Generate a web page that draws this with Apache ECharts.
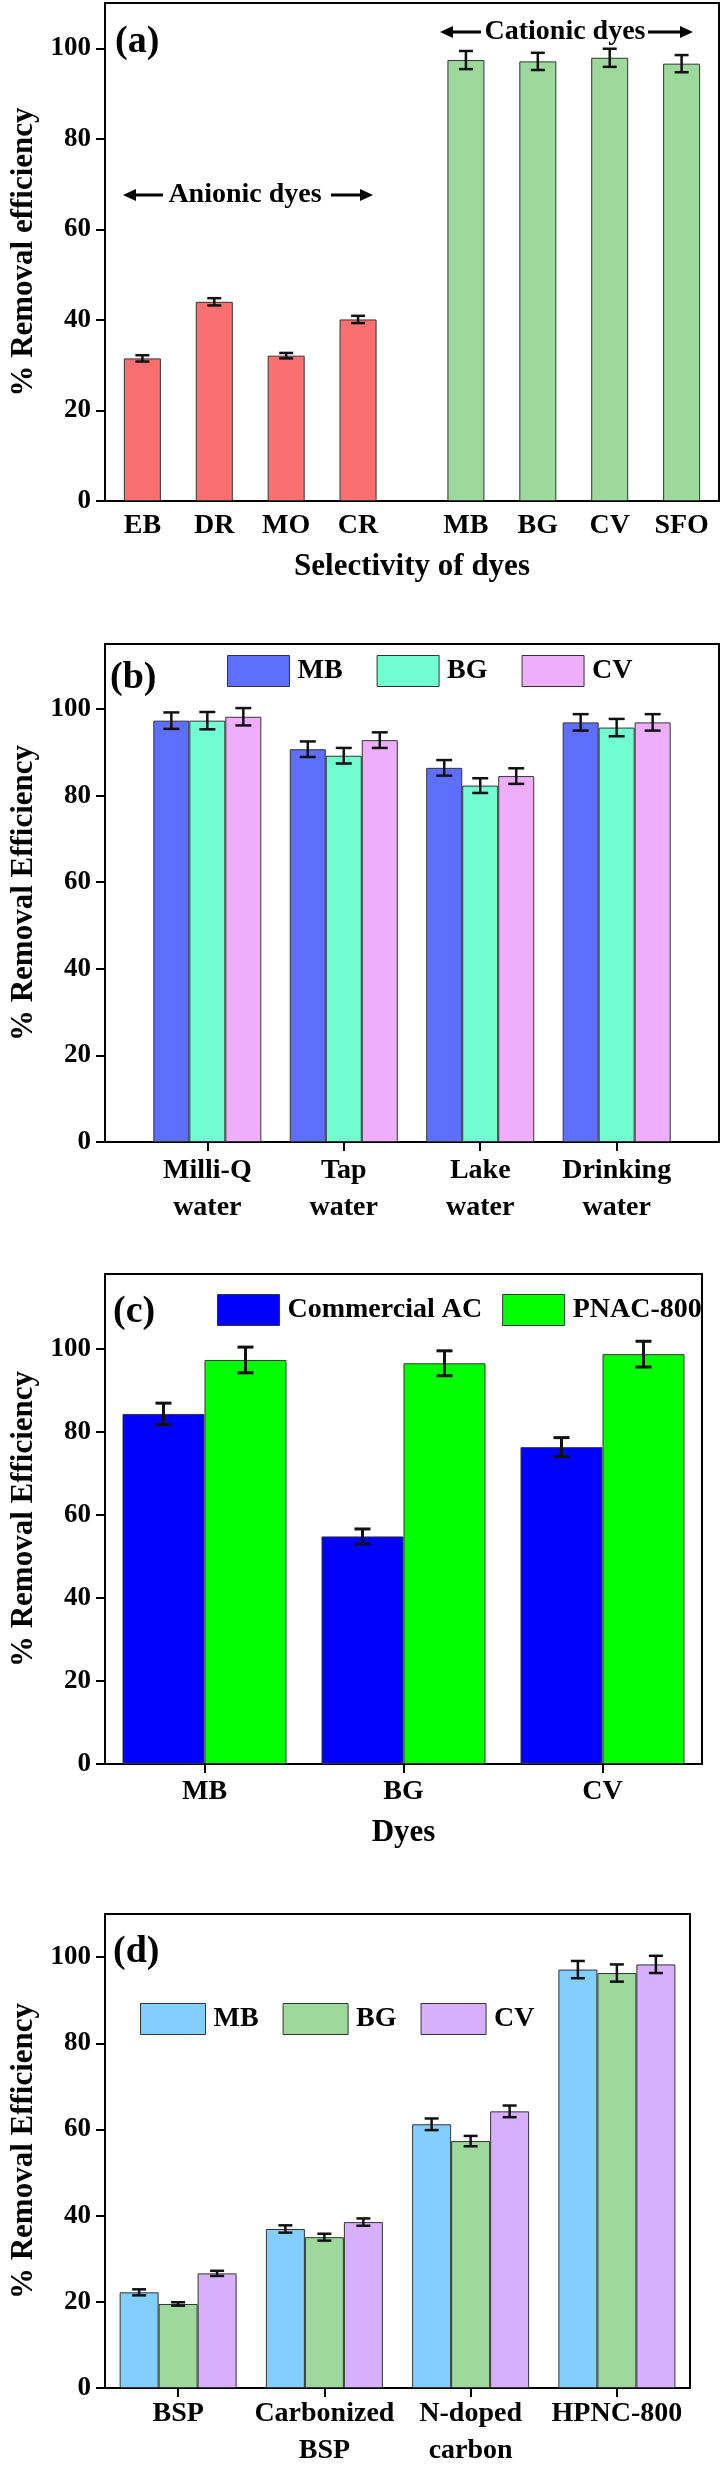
<!DOCTYPE html>
<html>
<head>
<meta charset="utf-8">
<script src="https://cdn.jsdelivr.net/npm/echarts@6/dist/echarts.min.js"></script>
<style>
body { margin: 0; background: #fff; }
.panel { position: absolute; left: 0; width: 722px; }
</style>
</head>
<body>
<div id="pa" class="panel" style="top:0;height:620px"></div>
<div id="pb" class="panel" style="top:620px;height:620px"></div>
<div id="pc" class="panel" style="top:1240px;height:620px"></div>
<div id="pd" class="panel" style="top:1860px;height:609px"></div>
<script>
// ---- data ----
var yTicks = [0, 20, 40, 60, 80, 100];

// (a) selectivity of dyes
var dyesA = ['EB', 'DR', 'MO', 'CR', 'MB', 'BG', 'CV', 'SFO'];
var posA = [1, 2, 3, 4, 5.5, 6.5, 7.5, 8.5];
var removalA = [31.5, 44.0, 32.1, 40.1, 97.4, 97.1, 97.9, 96.6];
var errA = [0.7, 0.8, 0.6, 0.8, 2.0, 1.9, 2.0, 1.9];
var anionicCount = 4;

// (b) real water samples
var watersB = ['Milli-Q\nwater', 'Tap\nwater', 'Lake\nwater', 'Drinking\nwater'];
var posB = [0, 1, 2, 3];
var mbB = [97.3, 90.7, 86.4, 96.9];
var bgB = [97.3, 89.2, 82.3, 95.7];
var cvB = [98.2, 92.8, 84.5, 96.9];
var mbErrB = [1.9, 1.8, 1.8, 1.9];
var bgErrB = [2.0, 1.8, 1.7, 2.0];
var cvErrB = [2.0, 1.8, 1.8, 1.9];

// (c) commercial AC vs PNAC-800
var dyesC = ['MB', 'BG', 'CV'];
var posC = [0, 1, 2];
var acC = [84.3, 54.8, 76.3];
var pnacC = [97.3, 96.5, 98.7];
var acErrC = [2.6, 1.8, 2.3];
var pnacErrC = [3.1, 3.0, 3.1];

// (d) materials
var materialsD = ['BSP', 'Carbonized\nBSP', 'N-doped\ncarbon', 'HPNC-800'];
var posD = [0, 1, 2, 3];
var mbD = [22.2, 36.9, 61.2, 97.1];
var bgD = [19.5, 35.0, 57.3, 96.3];
var cvD = [26.6, 38.5, 64.2, 98.3];
var mbErrD = [0.7, 0.85, 1.35, 2.0];
var bgErrD = [0.4, 0.8, 1.2, 2.0];
var cvErrD = [0.6, 0.85, 1.35, 2.0];

// ---- helpers ----
var FONT = 'Liberation Serif';
function txt(size) {
    return { fontFamily: FONT, fontWeight: 'bold', fontSize: size, color: '#000' };
}

function yAxisOpt(max, name) {
    return {
        type: 'value', min: 0, max: max,
        name: name, nameLocation: 'middle', nameGap: 66, nameRotate: 90,
        nameTextStyle: txt(31),
        axisLine: { show: true, onZero: false, lineStyle: { color: '#000', width: 2 } },
        axisTick: { show: true, length: 9, customValues: yTicks, lineStyle: { color: '#000', width: 2 } },
        axisLabel: Object.assign(txt(27), { margin: 14, customValues: yTicks }),
        splitLine: { show: false }
    };
}

function xAxisOpt(min, max, ticks, labels, showTick, margin, name, nameGap) {
    return {
        type: 'value', min: min, max: max,
        name: name || '', nameLocation: 'middle', nameGap: nameGap || 50,
        nameTextStyle: txt(31),
        axisLine: { onZero: false, lineStyle: { color: '#000', width: 2 } },
        axisTick: { show: showTick, length: 9, customValues: ticks, lineStyle: { color: '#000', width: 2 } },
        axisLabel: Object.assign(txt(28), {
            margin: margin, lineHeight: 37, customValues: ticks,
            formatter: function (v) {
                for (var i = 0; i < ticks.length; i++) {
                    if (Math.abs(ticks[i] - v) < 1e-6) return labels[i];
                }
                return '';
            }
        }),
        splitLine: { show: false }
    };
}

function barSeries(name, xs, ys, color, width) {
    return {
        type: 'bar', name: name, barWidth: width, barGap: '0%',
        data: xs.map(function (x, i) { return [x, ys[i]]; }),
        itemStyle: { color: color, borderColor: '#333', borderWidth: 1 }
    };
}

function errorSeries(xs, ys, errs, offsetPx, cap, lw) {
    return {
        type: 'custom', silent: true, z: 5,
        encode: { x: 0, y: 1 },
        data: xs.map(function (x, i) { return [x, ys[i], errs[i]]; }),
        renderItem: function (params, api) {
            var x = api.value(0), y = api.value(1), e = api.value(2);
            var top = api.coord([x, y + e]);
            var bot = api.coord([x, y - e]);
            var cx = top[0] + offsetPx;
            var st = { stroke: '#111', lineWidth: lw };
            return {
                type: 'group', children: [
                    { type: 'line', shape: { x1: cx, y1: top[1], x2: cx, y2: bot[1] }, style: st },
                    { type: 'line', shape: { x1: cx - cap, y1: top[1], x2: cx + cap, y2: top[1] }, style: st },
                    { type: 'line', shape: { x1: cx - cap, y1: bot[1], x2: cx + cap, y2: bot[1] }, style: st }
                ]
            };
        }
    };
}

function panelLabel(text, x, y) {
    return { type: 'text', x: x, y: y, style: { text: text, font: 'bold 38px "Liberation Serif"', fill: '#000', verticalAlign: 'middle' } };
}

function arrow(x1, x2, y, headLeft) {
    var hx = headLeft ? x1 : x2;
    var d = headLeft ? 13 : -13;
    return {
        type: 'group', children: [
            { type: 'line', shape: { x1: headLeft ? x1 + 8 : x1, y1: y, x2: headLeft ? x2 : x2 - 8, y2: y }, style: { stroke: '#000', lineWidth: 3 } },
            { type: 'polygon', shape: { points: [[hx, y], [hx + d, y - 6], [hx + d, y + 6]] }, style: { fill: '#000' } }
        ]
    };
}

function legendOpt(left, top, w, h, gap, names) {
    return {
        left: left, top: top, itemWidth: w, itemHeight: h, itemGap: gap, icon: 'rect',
        data: names,
        itemStyle: { borderColor: '#333', borderWidth: 1 },
        textStyle: Object.assign(txt(28), { padding: [0, 0, 0, 3] })
    };
}

// ---- (a) ----
var chartA = echarts.init(document.getElementById('pa'));
chartA.setOption({
    animation: false,
    grid: { left: 98, right: 3, top: 3, bottom: 119, show: true, borderColor: '#000', borderWidth: 2 },
    xAxis: xAxisOpt(0.48, 9.02, posA, dyesA, false, 6, 'Selectivity of dyes', 50),
    yAxis: yAxisOpt(110, '% Removal efficiency'),
    series: [
        {
            type: 'bar', barWidth: 37,
            data: dyesA.map(function (d, i) {
                return { value: [posA[i], removalA[i]], itemStyle: { color: i < anionicCount ? '#fa7070' : '#9dd89d' } };
            }),
            itemStyle: { borderColor: '#333', borderWidth: 1 }
        },
        errorSeries(posA, removalA, errA, 0, 7, 2.5)
    ],
    graphic: [
        panelLabel('(a)', 115, 42),
        { type: 'text', x: 245, y: 195, style: { text: 'Anionic dyes', font: 'bold 28px "Liberation Serif"', fill: '#000', align: 'center', verticalAlign: 'middle' } },
        arrow(123, 163, 195, true),
        arrow(331, 373, 195, false),
        { type: 'text', x: 565, y: 32, style: { text: 'Cationic dyes', font: 'bold 28px "Liberation Serif"', fill: '#000', align: 'center', verticalAlign: 'middle' } },
        arrow(440, 481, 32, true),
        arrow(648, 693, 32, false)
    ]
});

// ---- (b) ----
var chartB = echarts.init(document.getElementById('pb'));
var bwB = 36;
chartB.setOption({
    animation: false,
    grid: { left: 99, right: 3, top: 24, bottom: 98, show: true, borderColor: '#000', borderWidth: 2 },
    legend: legendOpt(222, 30, 62, 31, 34, ['MB', 'BG', 'CV']),
    xAxis: xAxisOpt(-0.75, 3.75, posB, watersB, true, 10),
    yAxis: yAxisOpt(115, '% Removal Efficiency'),
    series: [
        barSeries('MB', posB, mbB, '#5f6ffd', bwB),
        barSeries('BG', posB, bgB, '#72fdd0', bwB),
        barSeries('CV', posB, cvB, '#eeaefc', bwB),
        errorSeries(posB, mbB, mbErrB, -bwB, 8, 2.5),
        errorSeries(posB, bgB, bgErrB, 0, 8, 2.5),
        errorSeries(posB, cvB, cvErrB, bwB, 8, 2.5)
    ],
    graphic: [panelLabel('(b)', 110, 58)]
});

// ---- (c) ----
var chartC = echarts.init(document.getElementById('pc'));
var bwC = 82;
chartC.setOption({
    animation: false,
    grid: { left: 95, right: 20, top: 34, bottom: 96, show: true, borderColor: '#000', borderWidth: 2 },
    legend: legendOpt(212, 49, 62, 31, 20, ['Commercial AC', 'PNAC-800']),
    xAxis: xAxisOpt(-0.5, 2.5, posC, dyesC, true, 9, 'Dyes', 53),
    yAxis: yAxisOpt(118, '% Removal Efficiency'),
    series: [
        barSeries('Commercial AC', posC, acC, '#0000ff', bwC),
        barSeries('PNAC-800', posC, pnacC, '#00ff00', bwC),
        errorSeries(posC, acC, acErrC, -bwC / 2, 8, 3),
        errorSeries(posC, pnacC, pnacErrC, bwC / 2, 8, 3)
    ],
    graphic: [panelLabel('(c)', 113, 72)]
});

// ---- (d) ----
var chartD = echarts.init(document.getElementById('pd'));
var bwD = 39;
chartD.setOption({
    animation: false,
    grid: { left: 98, right: 32, top: 54, bottom: 76, show: true, borderColor: '#000', borderWidth: 2 },
    legend: legendOpt(135, 138, 65, 31, 24, ['MB', 'BG', 'CV']),
    xAxis: xAxisOpt(-0.5, 3.5, posD, materialsD, true, 7),
    yAxis: yAxisOpt(110, '% Removal Efficiency'),
    series: [
        barSeries('MB', posD, mbD, '#82cfff', bwD),
        barSeries('BG', posD, bgD, '#9dd89d', bwD),
        barSeries('CV', posD, cvD, '#d8affd', bwD),
        errorSeries(posD, mbD, mbErrD, -bwD, 7, 2.5),
        errorSeries(posD, bgD, bgErrD, 0, 7, 2.5),
        errorSeries(posD, cvD, cvErrD, bwD, 7, 2.5)
    ],
    graphic: [panelLabel('(d)', 113, 92)]
});
</script>
</body>
</html>
